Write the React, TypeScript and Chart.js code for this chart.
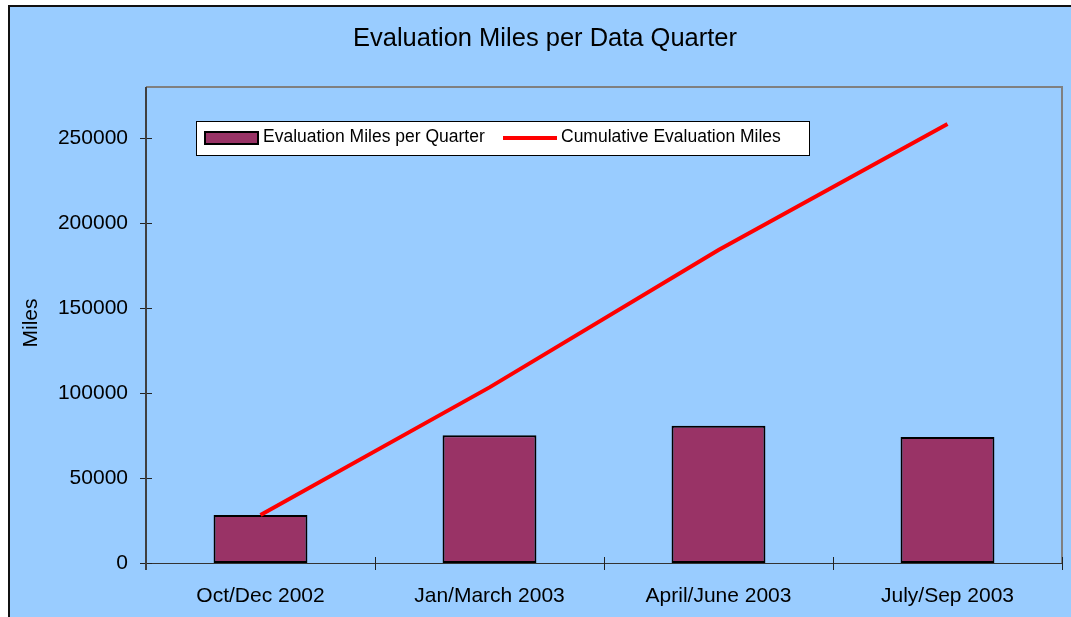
import React, { useEffect, useRef } from "react";
import { Chart, registerables } from "chart.js";

Chart.register(...registerables);

const categories = ["Oct/Dec 2002", "Jan/March 2003", "April/June 2003", "July/Sep 2003"];
const quarterMiles = [28200, 75100, 80800, 74100];
const cumulativeMiles = [28200, 103300, 184100, 258200];
const yTickValues = [0, 50000, 100000, 150000, 200000, 250000];
const yMax = 280000;
const chartTitle = "Evaluation Miles per Data Quarter";
const yTitle = "Miles";
const barLabel = "Evaluation Miles per Quarter";
const lineLabel = "Cumulative Evaluation Miles";

const FONT = "'Liberation Sans', Arial, sans-serif";
const BG = "#99CCFF";
const BAR = "#993366";
const LINE = "#FF0000";

const decor = {
  id: "decor",
  beforeDraw(chart: any) {
    const { ctx, width, height, chartArea: a } = chart;
    ctx.save();
    ctx.fillStyle = "#ffffff";
    ctx.fillRect(0, 0, width, height);
    ctx.fillStyle = BG;
    ctx.fillRect(8, 5, width - 8, height - 5);
    ctx.strokeStyle = "#111111";
    ctx.lineWidth = 2;
    ctx.beginPath();
    ctx.moveTo(9, height);
    ctx.lineTo(9, 6);
    ctx.lineTo(width, 6);
    ctx.stroke();
    // plot frame (top & right)
    ctx.strokeStyle = "#808080";
    ctx.lineWidth = 2;
    ctx.beginPath();
    ctx.moveTo(a.left, a.top);
    ctx.lineTo(a.right, a.top);
    ctx.lineTo(a.right, a.bottom);
    ctx.stroke();
    ctx.restore();
  },
  beforeDatasetsDraw(chart: any) {
    const { ctx, chartArea: a, scales } = chart;
    ctx.save();
    // x axis line
    ctx.strokeStyle = "#333333";
    ctx.lineWidth = 1;
    ctx.beginPath();
    ctx.moveTo(a.left, a.bottom + 0.5);
    ctx.lineTo(a.right, a.bottom + 0.5);
    ctx.stroke();
    // y ticks
    ctx.strokeStyle = "#222222";
    yTickValues.forEach((v) => {
      const y = Math.round(scales.y.getPixelForValue(v)) + 0.5;
      ctx.beginPath();
      ctx.moveTo(a.left - 6, y);
      ctx.lineTo(a.left + 6, y);
      ctx.stroke();
    });
    // x ticks at category boundaries
    const n = categories.length;
    for (let i = 0; i <= n; i++) {
      const x = Math.round(a.left + (i * (a.right - a.left)) / n) + 0.5;
      ctx.beginPath();
      ctx.moveTo(x, a.bottom - 6);
      ctx.lineTo(x, a.bottom + 7);
      ctx.stroke();
    }
    // y axis line
    ctx.strokeStyle = "#404040";
    ctx.lineWidth = 2;
    ctx.beginPath();
    ctx.moveTo(a.left, a.top);
    ctx.lineTo(a.left, a.bottom + 7);
    ctx.stroke();
    ctx.restore();
  },
  afterDraw(chart: any) {
    const { ctx } = chart;
    ctx.save();
    ctx.fillStyle = "#000000";
    // title
    ctx.font = `25.5px ${FONT}`;
    ctx.textAlign = "center";
    ctx.textBaseline = "middle";
    ctx.fillText(chartTitle, 545, 39);
    // y title
    ctx.save();
    ctx.translate(31, 323);
    ctx.rotate(-Math.PI / 2);
    ctx.font = `21px ${FONT}`;
    ctx.fillText(yTitle, 0, 0);
    ctx.restore();
    // legend
    ctx.fillStyle = "#ffffff";
    ctx.fillRect(196, 121, 614, 35);
    ctx.strokeStyle = "#000000";
    ctx.lineWidth = 1;
    ctx.strokeRect(196.5, 121.5, 613, 34);
    ctx.fillStyle = BAR;
    ctx.fillRect(205, 132, 53, 12);
    ctx.lineWidth = 2;
    ctx.strokeRect(205, 132, 53, 12);
    ctx.strokeStyle = LINE;
    ctx.lineWidth = 4;
    ctx.beginPath();
    ctx.moveTo(503, 138);
    ctx.lineTo(557, 138);
    ctx.stroke();
    ctx.fillStyle = "#000000";
    ctx.font = `17.5px ${FONT}`;
    ctx.textAlign = "left";
    ctx.textBaseline = "middle";
    ctx.fillText(barLabel, 263, 137);
    ctx.fillText(lineLabel, 561, 137);
    ctx.restore();
  },
};

export default function App() {
  const ref = useRef<HTMLCanvasElement | null>(null);
  useEffect(() => {
    if (!ref.current) return;
    const chart = new Chart(ref.current, {
      type: "bar",
      data: {
        labels: categories,
        datasets: [
          {
            type: "line",
            label: lineLabel,
            data: cumulativeMiles,
            borderColor: LINE,
            borderWidth: 4,
            pointRadius: 0,
            fill: false,
            tension: 0,
            order: 1,
          } as any,
          {
            type: "bar",
            label: barLabel,
            data: quarterMiles,
            backgroundColor: BAR,
            borderColor: "#000000",
            borderWidth: 2,
            borderSkipped: false,
            categoryPercentage: 1,
            barPercentage: 0.41,
            order: 2,
          },
        ],
      },
      options: {
        responsive: false,
        animation: false,
        layout: { padding: { left: 0, top: 87, right: 9, bottom: 0 } },
        plugins: {
          legend: { display: false },
          title: { display: false },
          tooltip: { enabled: false },
        },
        scales: {
          x: {
            offset: true,
            grid: { display: false },
            border: { display: false },
            ticks: {
              color: "#000000",
              font: { family: FONT, size: 21 },
              padding: 13,
              maxRotation: 0,
              autoSkip: false,
            },
            afterFit: (s: any) => {
              s.height = 54;
            },
          },
          y: {
            min: 0,
            max: yMax,
            grid: { display: false },
            border: { display: false },
            ticks: {
              color: "#000000",
              font: { family: FONT, size: 21 },
              padding: 10,
              callback: (v: any) => String(v),
            },
            afterBuildTicks: (s: any) => {
              s.ticks = yTickValues.map((v) => ({ value: v }));
            },
            afterFit: (s: any) => {
              s.width = 146;
            },
          },
        },
      },
      plugins: [decor],
    });
    return () => chart.destroy();
  }, []);
  return (
    <div style={{ position: "absolute", left: 0, top: 0, width: 1071, height: 617 }}>
      <canvas ref={ref} width={1071} height={617} style={{ display: "block" }} />
    </div>
  );
}
